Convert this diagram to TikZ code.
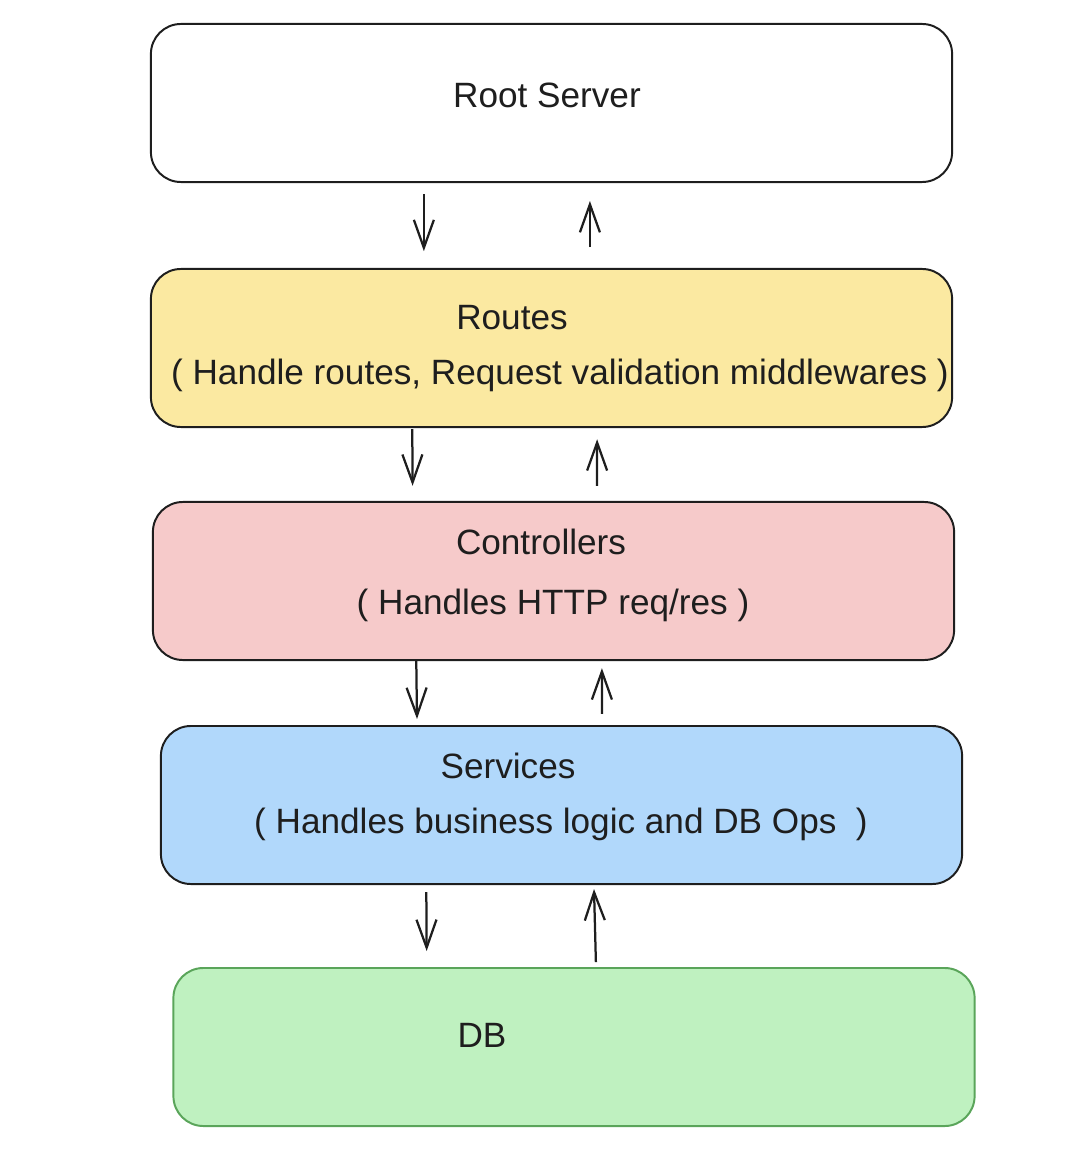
\documentclass[tikz,border=0pt]{standalone}
\usepackage{fontspec}
\setmainfont{Liberation Sans}
\usetikzlibrary{arrows.meta}

\definecolor{inkline}{HTML}{1E1E1E}
\definecolor{routesfill}{HTML}{FBE9A1}
\definecolor{ctrlfill}{HTML}{F6CACA}
\definecolor{servfill}{HTML}{B1D8FB}
\definecolor{dbfill}{HTML}{BFF1C0}
\definecolor{dbline}{HTML}{5AA55A}

\begin{document}
\begin{tikzpicture}[x=0.025cm, y=-0.025cm]
% Definir estilos
\tikzstyle{layer} = [rectangle, rounded corners=0.75cm, minimum width=20.025cm, minimum height=3.95cm, draw=inkline, line width=1.4pt]
\tikzstyle{lbl} = [inner sep=0pt, text=inkline, font=\fontsize{25}{29}\selectfont]
\tikzstyle{flow} = [-{Straight Barb[length=0.7cm, width=0.5cm]}, line width=1.6pt, draw=inkline]

\useasboundingbox (0,0) rectangle (1090,1154);

% Capas
\node[layer, fill=white] (root) at (551.5,103) {};
\node[layer, fill=routesfill] (routes) at (551.5,348) {};
\node[layer, fill=ctrlfill] (ctrl) at (553.5,581) {};
\node[layer, fill=servfill] (serv) at (561.5,805) {};
\node[layer, fill=dbfill, draw=dbline] (db) at (574,1047) {};

% Textos
\node[lbl] (rootT) at (547,95) {Root Server};
\node[lbl] (routesT) at (512,318) {Routes};
\node[lbl] (routesD) at (560,375) {( Handle routes, Request validation middlewares )};
\node[lbl] (ctrlT) at (541,542) {Controllers};
\node[lbl] (ctrlD) at (553,605) {( Handles HTTP req/res )};
\node[lbl] (servT) at (508,766) {Services};
\node[lbl] (servD) at (561,824) {( Handles business logic and DB Ops \ )};
\node[lbl] (dbT) at (482,1035) {DB};

% Peticiones (bajan)
\draw[flow, shorten <=0.28cm, shorten >=0.42cm] ([xshift=-3.19cm]root.south) -- ([xshift=-3.19cm]routes.north);
\draw[flow, shorten <=0.03cm, shorten >=0.38cm] ([xshift=-3.48cm]routes.south) -- ([xshift=-3.52cm]ctrl.north);
\draw[flow, shorten <=0cm, shorten >=0.15cm] ([xshift=-3.43cm]ctrl.south) -- ([xshift=-3.61cm]serv.north);
\draw[flow, shorten <=0.18cm, shorten >=0.4cm] ([xshift=-3.38cm]serv.south) -- ([xshift=-3.68cm]db.north);

% Respuestas (suben)
\draw[flow, shorten <=0.52cm, shorten >=0.45cm] ([xshift=0.96cm]routes.north) -- ([xshift=0.96cm]root.south);
\draw[flow, shorten <=0.38cm, shorten >=0.28cm] ([xshift=1.09cm]ctrl.north) -- ([xshift=1.14cm]routes.south);
\draw[flow, shorten <=0.28cm, shorten >=0.18cm] ([xshift=1.01cm]serv.north) -- ([xshift=1.21cm]ctrl.south);
\draw[flow, shorten <=0.12cm, shorten >=0.1cm] ([xshift=0.55cm]db.north) -- ([xshift=0.81cm]serv.south);
\end{tikzpicture}
\end{document}
